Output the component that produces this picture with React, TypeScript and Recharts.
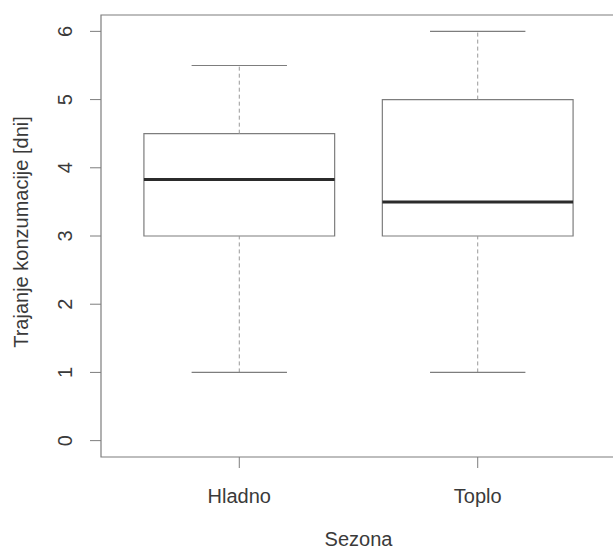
import {
  ComposedChart,
  ReferenceArea,
  ReferenceLine,
  Scatter,
  XAxis,
  YAxis,
} from "recharts";

const seasons = ["Hladno", "Toplo"];
const whiskerLow = [1, 1];
const lowerQuartile = [3, 3];
const medians = [3.83, 3.5];
const upperQuartile = [4.5, 5];
const whiskerHigh = [5.5, 6];
const yTicks = [0, 1, 2, 3, 4, 5, 6];

const X_DOMAIN: [number, number] = [0.42, 2.58];
const Y_DOMAIN: [number, number] = [-0.24, 6.24];
const BOX_HALF = 0.4;
const CAP_HALF = 0.2;

const FONT = "'Liberation Sans', Arial, Helvetica, sans-serif";
const FONT_SIZE = 20;
const TEXT = "#3a3a3a";
const LINE = "#7d7d7d";

const rows = seasons.map((name, i) => ({
  name,
  pos: i + 1,
  median: medians[i],
}));

function YTick({ x, y, payload }: any) {
  const tx = x - 16;
  return (
    <text
      x={tx}
      y={y}
      transform={`rotate(-90, ${tx}, ${y})`}
      textAnchor="middle"
      fill={TEXT}
      fontSize={FONT_SIZE}
      fontFamily={FONT}
    >
      {payload.value}
    </text>
  );
}

function XTick({ x, y, payload }: any) {
  return (
    <text
      x={x}
      y={y + 33}
      textAnchor="middle"
      fill={TEXT}
      fontSize={FONT_SIZE}
      fontFamily={FONT}
    >
      {seasons[payload.value - 1]}
    </text>
  );
}

function YLabel({ viewBox }: any) {
  const cx = 28;
  const cy = viewBox.y + viewBox.height / 2 - 4;
  return (
    <text
      x={cx}
      y={cy}
      transform={`rotate(-90, ${cx}, ${cy})`}
      textAnchor="middle"
      fill={TEXT}
      fontSize={FONT_SIZE}
      fontFamily={FONT}
    >
      Trajanje konzumacije [dni]
    </text>
  );
}

function XLabel({ viewBox }: any) {
  return (
    <text
      x={viewBox.x + viewBox.width / 2}
      y={viewBox.y + 89}
      textAnchor="middle"
      fill={TEXT}
      fontSize={FONT_SIZE}
      fontFamily={FONT}
    >
      Sezona
    </text>
  );
}

export default function App() {
  return (
    <div
      style={{
        position: "absolute",
        left: 0,
        top: 0,
        width: 613,
        height: 551,
        overflow: "hidden",
        background: "#fff",
      }}
    >
      <ComposedChart
        width={616}
        height={551}
        data={rows}
        margin={{ top: 15, right: 0, bottom: 0, left: 0 }}
      >
        <XAxis
          dataKey="pos"
          type="number"
          domain={X_DOMAIN}
          ticks={[1, 2]}
          allowDataOverflow
          axisLine={false}
          tickLine={{ stroke: LINE }}
          tickSize={11}
          height={94}
          tick={<XTick />}
          label={<XLabel />}
        />
        <YAxis
          type="number"
          domain={Y_DOMAIN}
          ticks={yTicks}
          allowDataOverflow
          axisLine={false}
          tickLine={{ stroke: LINE }}
          tickSize={11}
          width={101}
          tick={<YTick />}
          label={<YLabel />}
        />
        <ReferenceArea
          x1={X_DOMAIN[0]}
          x2={X_DOMAIN[1]}
          y1={Y_DOMAIN[0]}
          y2={Y_DOMAIN[1]}
          fill="none"
          stroke={LINE}
          strokeWidth={1.2}
          ifOverflow="visible"
        />
        {rows.map((r, i) => (
          <ReferenceLine
            key={`wl-${r.name}`}
            segment={[
              { x: r.pos, y: whiskerLow[i] },
              { x: r.pos, y: lowerQuartile[i] },
            ]}
            stroke="#9a9a9a"
            strokeDasharray="4 3"
          />
        ))}
        {rows.map((r, i) => (
          <ReferenceLine
            key={`wh-${r.name}`}
            segment={[
              { x: r.pos, y: upperQuartile[i] },
              { x: r.pos, y: whiskerHigh[i] },
            ]}
            stroke="#9a9a9a"
            strokeDasharray="4 3"
          />
        ))}
        {rows.map((r, i) => (
          <ReferenceLine
            key={`cl-${r.name}`}
            segment={[
              { x: r.pos - CAP_HALF, y: whiskerLow[i] },
              { x: r.pos + CAP_HALF, y: whiskerLow[i] },
            ]}
            stroke={LINE}
            strokeWidth={1.2}
          />
        ))}
        {rows.map((r, i) => (
          <ReferenceLine
            key={`ch-${r.name}`}
            segment={[
              { x: r.pos - CAP_HALF, y: whiskerHigh[i] },
              { x: r.pos + CAP_HALF, y: whiskerHigh[i] },
            ]}
            stroke={LINE}
            strokeWidth={1.2}
          />
        ))}
        {rows.map((r, i) => (
          <ReferenceArea
            key={`box-${r.name}`}
            x1={r.pos - BOX_HALF}
            x2={r.pos + BOX_HALF}
            y1={lowerQuartile[i]}
            y2={upperQuartile[i]}
            fill="none"
            stroke={LINE}
            strokeWidth={1.2}
          />
        ))}
        {rows.map((r) => (
          <ReferenceLine
            key={`md-${r.name}`}
            segment={[
              { x: r.pos - BOX_HALF, y: r.median },
              { x: r.pos + BOX_HALF, y: r.median },
            ]}
            stroke="#2b2b2b"
            strokeWidth={3}
          />
        ))}
        <Scatter
          dataKey="median"
          isAnimationActive={false}
          shape={() => <g />}
        />
      </ComposedChart>
    </div>
  );
}
